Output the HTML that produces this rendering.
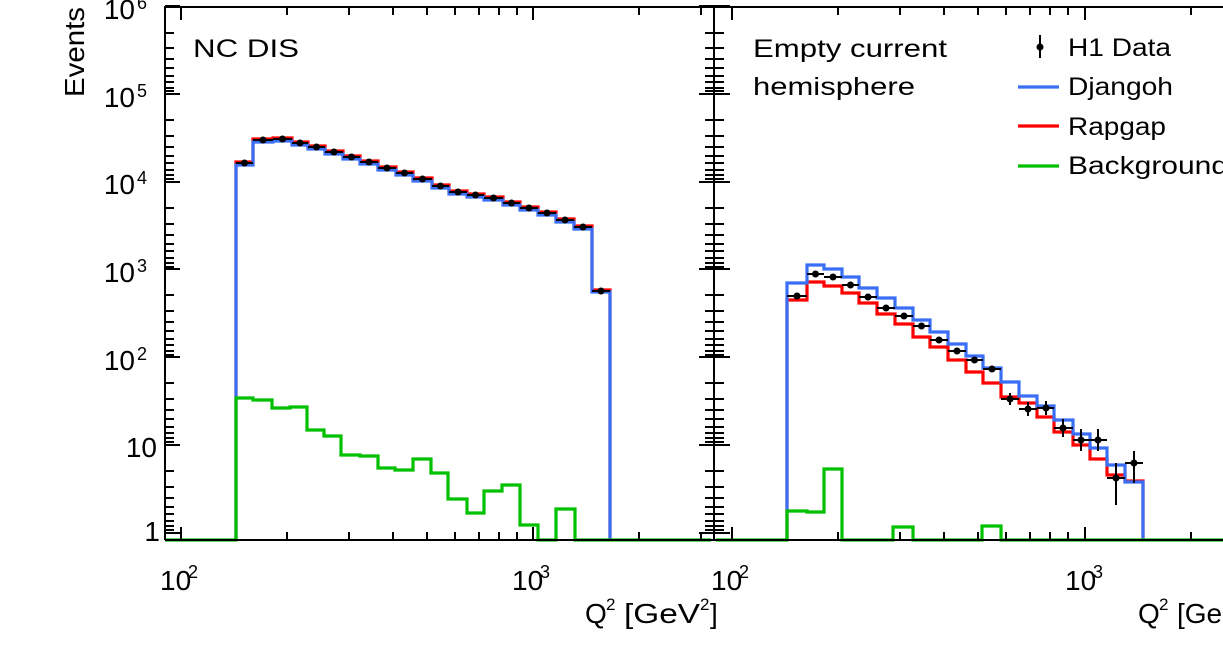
<!DOCTYPE html>
<html><head><meta charset="utf-8"><style>
html,body{margin:0;padding:0;background:#fff;}
svg{display:block;font-family:"Liberation Sans",Arial,sans-serif;}
</style></head><body>
<svg width="1223" height="658" viewBox="0 0 1223 658" xmlns="http://www.w3.org/2000/svg">
<rect width="1223" height="658" fill="#fff"/>
<g id="hist" fill="none" stroke-width="3.2" stroke-linejoin="miter">
<path stroke="#ff0000" d="M236,540 V162 H253 V139 H273 V138 H292 V142 H308 V146 H325 V151 H343 V156 H360 V161 H378 V167 H396 V172 H413 V178 H432 V185 H449 V191 H467 V194 H484 V197 H503 V202 H520 V207 H538 V212 H556 V219 H574 V226 H592 V290 H610 V540"/>
<path stroke="#3a6ef5" d="M236,540 V165 H253 V142 H273 V141 H292 V145 H308 V149 H325 V154 H343 V159 H360 V164 H378 V170 H396 V175 H413 V181 H432 V188 H449 V194 H467 V197 H484 V200 H503 V205 H520 V210 H538 V215 H556 V222 H574 V229 H592 V292 H610 V540"/>
<path stroke="#00c000" d="M165,540 H236 V398 H253 V400 H272 V408 H290 V407 H307 V430 H324 V436 H341 V455 H360 V456 H378 V468 H395 V470 H413 V459 H431 V473 H448 V499 H467 V513 H484 V491 H502 V485 H520 V525 H538 V540 H556 V509 H575 V540 H711"/>
<path stroke="#ff0000" d="M787,540 V300 H807 V282 H824 V286 H842 V293 H859 V303 H877 V314 H895 V324 H913 V337 H930 V347 H948 V360 H966 V372 H983 V383 H1001 V397 H1019 V403 H1037 V417 H1054 V432 H1073 V445 H1090 V459 H1107 V475 H1125 V481 H1143 V540"/>
<path stroke="#3a6ef5" d="M787,540 V283 H807 V265 H824 V269 H842 V277 H859 V288 H877 V298 H895 V308 H913 V320 H930 V332 H948 V344 H966 V356 H983 V368 H1001 V382 H1019 V396 H1037 V406 H1054 V420 H1073 V434 H1090 V448 H1107 V465 H1125 V482 H1143 V540"/>
<path stroke="#00c000" d="M716,540 H787 V511 H807 V512 H824 V469 H842 V540 H893 V527 H913 V540 H982 V526 H1001 V540 H1223"/>
</g>
<g id="data" stroke="#000" stroke-width="2" fill="#000">
<path fill="none" d="M236,163H253M253,140H273M273,139H292M292,143H308M308,147H325M325,152H343M343,157H360M360,162H378M378,168H396M396,173H413M413,179H432M432,186H449M449,192H467M467,195H484M484,198H503M503,203H520M520,208H538M538,213H556M556,220H574M574,227H592M592,291H610"/>
<g stroke="none">
<circle cx="244.5" cy="163" r="3.5"/><circle cx="263" cy="140" r="3.5"/><circle cx="282.5" cy="139" r="3.5"/><circle cx="300" cy="143" r="3.5"/><circle cx="316.5" cy="147" r="3.5"/><circle cx="334" cy="152" r="3.5"/><circle cx="351.5" cy="157" r="3.5"/><circle cx="369" cy="162" r="3.5"/><circle cx="387" cy="168" r="3.5"/><circle cx="404.5" cy="173" r="3.5"/><circle cx="422.5" cy="179" r="3.5"/><circle cx="440.5" cy="186" r="3.5"/><circle cx="458" cy="192" r="3.5"/><circle cx="475.5" cy="195" r="3.5"/><circle cx="493.5" cy="198" r="3.5"/><circle cx="511.5" cy="203" r="3.5"/><circle cx="529" cy="208" r="3.5"/><circle cx="547" cy="213" r="3.5"/><circle cx="565" cy="220" r="3.5"/><circle cx="583" cy="227" r="3.5"/><circle cx="601" cy="291" r="3.5"/>
</g>
<path fill="none" d="M787,296H807M807,274H824M824,277H842M842,285H859M859,297H877M877,308H895M895,316H913M913,326H930M930,340H948M948,351H966M966,360H983M983,369H1001M1001,399H1019M1019,409H1037M1037,408H1054M1054,428H1073M1073,440H1090M1090,440H1107M1107,478H1125M1125,463H1143
M1010,393V405M1028,402V416M1046,401V415M1063,419V437M1081,429V451M1098,429V451M1116,463V505M1134,451V483"/>
<g stroke="none">
<circle cx="797" cy="296" r="3.5"/><circle cx="815.5" cy="274" r="3.5"/><circle cx="833" cy="277" r="3.5"/><circle cx="850.5" cy="285" r="3.5"/><circle cx="868" cy="297" r="3.5"/><circle cx="886" cy="308" r="3.5"/><circle cx="904" cy="316" r="3.5"/><circle cx="921.5" cy="326" r="3.5"/><circle cx="939" cy="340" r="3.5"/><circle cx="957" cy="351" r="3.5"/><circle cx="974.5" cy="360" r="3.5"/><circle cx="992" cy="369" r="3.5"/><circle cx="1010" cy="399" r="3.5"/><circle cx="1028" cy="409" r="3.5"/><circle cx="1046" cy="408" r="3.5"/><circle cx="1063" cy="428" r="3.5"/><circle cx="1081" cy="440" r="3.5"/><circle cx="1098" cy="440" r="3.5"/><circle cx="1116" cy="478" r="3.5"/><circle cx="1134" cy="463" r="3.5"/>
</g>
</g>
<g stroke="#000" stroke-width="2" fill="none">
<path d="M165,540 V7 H1223 M165,540 H1223 M714,7 V540"/>
<path d="
M165,6H180M165,94H180M165,182H180M165,269H180M165,357H180M165,445H180M165,533H180
M165,33H174M165,48H174M165,59H174M165,68H174M165,76H174M165,82H174M165,88H174M165,91H174
M165,120H174M165,136H174M165,147H174M165,156H174M165,163H174M165,170H174M165,175H174M165,179H174
M165,208H174M165,224H174M165,235H174M165,244H174M165,251H174M165,258H174M165,263H174M165,267H174
M165,295H174M165,311H174M165,322H174M165,331H174M165,339H174M165,345H174M165,351H174M165,355H174
M165,383H174M165,399H174M165,410H174M165,419H174M165,427H174M165,433H174M165,438H174M165,442H174
M165,471H174M165,487H174M165,498H174M165,507H174M165,514H174M165,521H174M165,526H174M165,530H174"/>
<path d="
M699,94H730M699,182H730M699,269H730M699,357H730M699,445H730M699,533H730M699,6H730
M705,33H724M705,48H724M705,59H724M705,68H724M705,76H724M705,82H724M705,88H724M705,91H724
M705,120H724M705,136H724M705,147H724M705,156H724M705,163H724M705,170H724M705,175H724M705,179H724
M705,208H724M705,224H724M705,235H724M705,244H724M705,251H724M705,258H724M705,263H724M705,267H724
M705,295H724M705,311H724M705,322H724M705,331H724M705,339H724M705,345H724M705,351H724M705,355H724
M705,383H724M705,399H724M705,410H724M705,419H724M705,427H724M705,433H724M705,438H724M705,442H724
M705,471H724M705,487H724M705,498H724M705,507H724M705,514H724M705,521H724M705,526H724M705,530H724"/>
<path d="M181,540V527M533,540V527M181,7V20M533,7V20
M287,540V532M349,540V532M393,540V532M427,540V532M455,540V532M479,540V532M499,540V532M517,540V532M639,540V532M701,540V532
M287,7V15M349,7V15M393,7V15M427,7V15M455,7V15M479,7V15M499,7V15M517,7V15M639,7V15M701,7V15"/>
<path d="M732,540V527M1085,540V527M732,7V20M1085,7V20
M838,540V532M900,540V532M944,540V532M978,540V532M1006,540V532M1030,540V532M1050,540V532M1068,540V532M1191,540V532
M838,7V15M900,7V15M944,7V15M978,7V15M1006,7V15M1030,7V15M1050,7V15M1068,7V15M1191,7V15"/>
</g>
<g fill="#000" font-size="28">
<text x="135" y="19" text-anchor="end">10</text><text x="137" y="9" font-size="18">6</text>
<text x="135" y="107" text-anchor="end">10</text><text x="137" y="97" font-size="18">5</text>
<text x="135" y="194" text-anchor="end">10</text><text x="137" y="184" font-size="18">4</text>
<text x="135" y="282" text-anchor="end">10</text><text x="137" y="272" font-size="18">3</text>
<text x="135" y="370" text-anchor="end">10</text><text x="137" y="360" font-size="18">2</text>
<text x="157" y="457" text-anchor="end">10</text>
<text x="160" y="541" text-anchor="end">1</text>
<text x="160" y="590">10</text><text x="188" y="578" font-size="18">2</text>
<text x="512" y="590">10</text><text x="540" y="578" font-size="18">3</text>
<text x="711" y="590">10</text><text x="739" y="578" font-size="18">2</text>
<text x="1065" y="590">10</text><text x="1093" y="578" font-size="18">3</text>
<text x="585" y="623" font-size="28">Q</text><text x="606" y="610" font-size="17">2</text>
<text x="624" y="623" font-size="28" textLength="76" lengthAdjust="spacingAndGlyphs">[GeV</text><text x="700" y="610" font-size="17">2</text>
<text x="710" y="623" font-size="28">]</text>
<text x="1138" y="623" font-size="28">Q</text><text x="1159" y="610" font-size="17">2</text>
<text x="1177" y="623" font-size="28">[Ge</text>
<text transform="translate(84,97) rotate(-90)" font-size="28" textLength="90" lengthAdjust="spacingAndGlyphs">Events</text>
<text x="193" y="57" font-size="25" textLength="106" lengthAdjust="spacingAndGlyphs">NC DIS</text>
<text x="753" y="57" font-size="25" textLength="194" lengthAdjust="spacingAndGlyphs">Empty current</text>
<text x="753" y="95" font-size="25" textLength="162" lengthAdjust="spacingAndGlyphs">hemisphere</text>
<text x="1068" y="56" font-size="25" textLength="103" lengthAdjust="spacingAndGlyphs">H1 Data</text>
<text x="1068" y="95" font-size="25" textLength="105" lengthAdjust="spacingAndGlyphs">Djangoh</text>
<text x="1068" y="135" font-size="25" textLength="98" lengthAdjust="spacingAndGlyphs">Rapgap</text>
<text x="1068" y="174" font-size="25" textLength="175" lengthAdjust="spacingAndGlyphs">Backgrounds</text>
</g>
<g stroke-width="3.2">
<path stroke="#000" stroke-width="2" d="M1040,35V58"/>
<circle cx="1040" cy="47" r="3.5" fill="#000"/>
<path stroke="#3a6ef5" d="M1018,87H1059"/>
<path stroke="#ff0000" d="M1018,126H1059"/>
<path stroke="#00c000" d="M1018,166H1059"/>
</g>
</svg>
</body></html>
